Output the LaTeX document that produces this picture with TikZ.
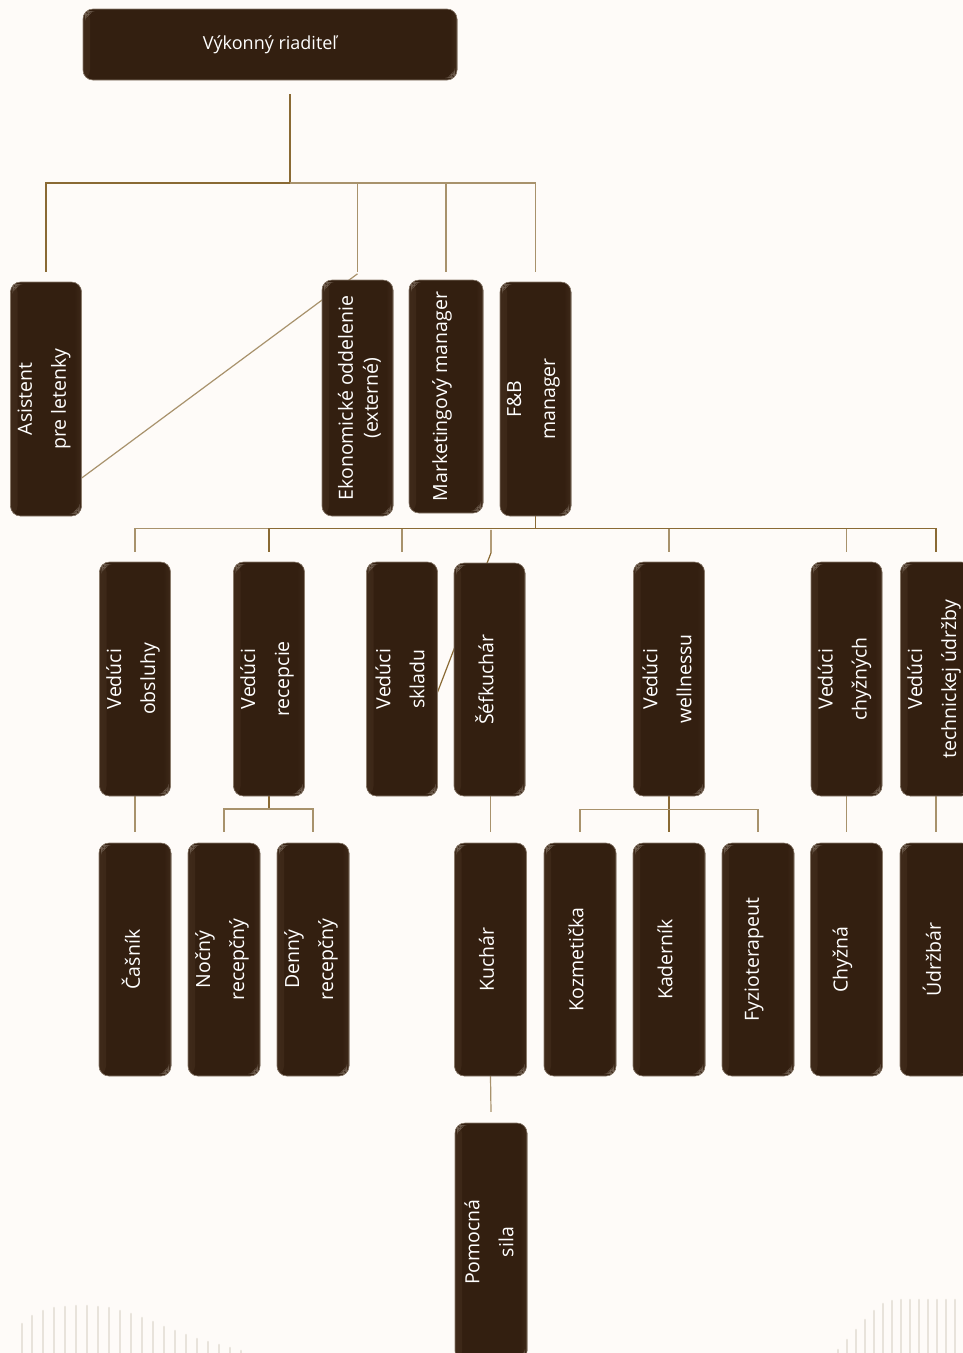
\documentclass[tikz,border=0pt]{standalone}
\usepackage{fontspec}
\setmainfont{Open Sans}
\usetikzlibrary{calc}
\definecolor{bgc}{HTML}{FEFBF8}
\definecolor{boxbrown}{HTML}{331F10}
\definecolor{boxedge}{HTML}{3E2919}
\definecolor{boxframe}{HTML}{8A7B6C}
\definecolor{glint}{HTML}{8E7E70}
\definecolor{conc}{HTML}{8A6A34}
\definecolor{conlc}{HTML}{A8926C}
\definecolor{stripec}{HTML}{E8E3DB}
\tikzset{
  orgbox/.style={rounded corners=10pt, fill=boxbrown, draw=boxframe, line width=0.6pt,
    inner sep=0pt, minimum width=71pt, minimum height=234pt, text=white,
    path picture={
      \fill[left color=boxedge, right color=boxbrown]
        (path picture bounding box.north west) rectangle ([xshift=7pt]path picture bounding box.south west);
      \fill[left color=boxbrown, right color=boxedge]
        ([xshift=-7pt]path picture bounding box.north east) rectangle (path picture bounding box.south east);
      \fill[glint, opacity=0.6] ([shift={(2pt,-2pt)}]path picture bounding box.north west)
        -- ++(8pt,0pt) -- ++(-8pt,-8pt) -- cycle;
      \fill[glint, opacity=0.6] ([shift={(-2pt,2pt)}]path picture bounding box.south east)
        -- ++(-8pt,0pt) -- ++(8pt,8pt) -- cycle;
    }},
  anchorbox/.style={inner sep=0pt, minimum width=71pt, minimum height=234pt},
  vtext/.style={rotate=90, text=white, align=center, font=\fontsize{19.5}{34}\selectfont},
  con/.style={draw=conc, line width=1.5pt},
  conl/.style={draw=conlc, line width=1.4pt},
  stripeln/.style={draw=stripec, line width=2.6pt, line cap=round},
}
\begin{document}
\begin{tikzpicture}[x=1pt,y=-1pt]
\useasboundingbox (0,0) rectangle (963,1353);
\fill[bgc] (0,0) rectangle (963,1353);
\clip (0,0) rectangle (963,1353);

% decorative stripes
\foreach \sx/\st in {22/1324, 32/1316, 43/1311, 54/1308, 65/1307, 76/1306, 87/1306, 98/1307, 109/1308, 120/1311, 131/1314, 142/1318, 153/1322, 164/1327, 175/1331, 186/1335, 197/1339, 208/1342, 219/1345, 230/1348, 241/1351}
  \draw[stripeln] (\sx,1356) -- (\sx,\st);
\foreach \sx/\st in {838/1350, 847/1340, 856/1330, 865/1320, 874/1311, 883/1304, 892/1301, 901/1300, 910/1300, 919/1300, 928/1300, 937/1300, 946/1300, 955/1300}
  \draw[stripeln] (\sx,1356) -- (\sx,\st);

% anchor boxes (positions only)
\path (270,44.5) node[anchorbox, minimum width=374pt, minimum height=71pt] (ceo) {};
\path (46,399) node[anchorbox] (asist) {}
      (357.5,398) node[anchorbox, minimum height=236pt] (ekon) {}
      (446,396.5) node[anchorbox, minimum width=74pt, minimum height=233pt] (mark) {}
      (535.5,399) node[anchorbox] (fb) {};
\path (135,679) node[anchorbox, minimum width=70pt] (obs) {}
      (269,679) node[anchorbox, minimum width=72pt] (rec) {}
      (402,679) node[anchorbox, minimum width=70pt] (skl) {}
      (489.5,679.5) node[anchorbox, minimum height=233pt] (sef) {}
      (669,679) node[anchorbox, minimum width=72pt] (well) {}
      (846.5,679) node[anchorbox, minimum width=73pt] (chyz) {}
      (936,679) node[anchorbox, minimum width=72pt] (tech) {};
\path (135,959.5) node[anchorbox, minimum width=72pt, minimum height=233pt] (cas) {}
      (224,959.5) node[anchorbox, minimum width=72pt, minimum height=233pt] (noc) {}
      (313,959.5) node[anchorbox, minimum width=72pt, minimum height=233pt] (den) {}
      (490.5,959.5) node[anchorbox, minimum height=233pt] (kuch) {}
      (580,959.5) node[anchorbox, minimum width=72pt, minimum height=233pt] (koz) {}
      (669,959.5) node[anchorbox, minimum width=72pt, minimum height=233pt] (kad) {}
      (758,959.5) node[anchorbox, minimum width=72pt, minimum height=233pt] (fyz) {}
      (846.5,959.5) node[anchorbox, minimum width=73pt, minimum height=233pt] (chy) {}
      (936,959.5) node[anchorbox, minimum width=72pt, minimum height=233pt] (udr) {};
\path (491,1242) node[anchorbox, minimum width=72pt, minimum height=238pt] (pom) {};

% top level connectors
\coordinate (j0) at (290,183);
\draw[con] ($(ceo.south -| j0)+(0,14)$) -- (j0);
\draw[con] ($(asist.north)+(0,-10)$) |- (j0);
\draw[conl] (j0) -| ($(fb.north)+(0,-10)$);
\draw[conl] ($(ekon.north)+(0,-8)$) -- (ekon.north |- j0);
\draw[conl] ($(mark.north)+(0,-8)$) -- (mark.north |- j0);
\draw[conl, line width=1.2pt] ($(ekon.north)+(0,-6)$) -- ($(asist.east)+(0,79)$);

% F&B connectors
\coordinate (j1) at (535.5,528.5);
\draw[con] (fb.south) -- (j1);
\draw[conl, line width=1.2pt] ($(obs.north)+(0,-10)$) |- (rec.north |- j1);
\draw[con] ($(rec.north)+(0,-10)$) |- (j1) -| ($(tech.north)+(0,-10)$);
\draw[conl] ($(skl.north)+(0,-10)$) -- (skl.north |- j1);
\draw[con, line width=1.2pt] ($(skl.east)+(0,14)$) -- ($(sef.north)+(1.5,-10)$) -- ($(sef.north)+(1.5,-33)$);
\draw[conl] ($(well.north)+(0,-10)$) -- (well.north |- j1);
\draw[conl] ($(chyz.north)+(0,-10)$) -- (chyz.north |- j1);

% lower connectors
\coordinate (j2) at (269,809);
\coordinate (j3) at (669,809.5);
\draw[conl, line width=1.2pt] (obs.south) -- ($(cas.north)+(0,-11)$);
\draw[con] (rec.south) -- (j2);
\draw[conl, line width=1.2pt] ($(noc.north)+(0,-11)$) |- (j2) -| ($(den.north)+(0,-11)$);
\draw[conl, line width=1.2pt] ($(kuch.north)+(0,-11)$) -- (kuch.north |- sef.south);
\draw[con] (well.south) -- ($(kad.north)+(0,-11)$);
\draw[conl, line width=1.2pt] ($(koz.north)+(0,-11)$) |- (j3) -| ($(fyz.north)+(0,-11)$);
\draw[conl, line width=1.2pt] (chyz.south) -- ($(chy.north)+(0,-11)$);
\draw[conl, line width=1.2pt] (tech.south) -- ($(udr.north)+(0,-11)$);
\draw[conl, line width=1.2pt] (kuch.south) -- ($(pom.north)+(0,-11)$);

% ---------- visible boxes ----------
\node[orgbox, minimum width=374pt, minimum height=71pt, font=\fontsize{18}{22}\selectfont] (ceob) at (ceo) {Výkonný riaditeľ};

\node[orgbox] (asistb) at (asist) {};
\node[orgbox, minimum height=236pt] (ekonb) at (ekon) {};
\node[orgbox, minimum width=74pt, minimum height=233pt] (markb) at (mark) {};
\node[orgbox] (fbb) at (fb) {};
\node[vtext] (asist-t) at ($(asist)+(-2,0)$) {Asistent\\pre letenky};
\node[vtext, font=\fontsize{19.5}{25}\selectfont] (ekon-t) at ($(ekon)+(2,0)$) {Ekonomické oddelenie\\(externé)};
\node[vtext] (mark-t) at ($(mark)+(-4,0)$) {Marketingový manager};
\node[vtext] (fb-t) at ($(fb)+(-2,0)$) {F\&B\\manager};

\foreach \n in {obs,rec,skl,well,chyz,tech}
  \node[orgbox] (\n b) at (\n) {};
\node[orgbox, minimum height=233pt] (sefb) at (sef) {};
\node[vtext] (obs-t) at ($(obs)+(-2,0)$) {Vedúci\\obsluhy};
\node[vtext] (rec-t) at ($(rec)+(-2,0)$) {Vedúci\\recepcie};
\node[vtext] (skl-t) at ($(skl)+(-2,0)$) {Vedúci\\skladu};
\node[vtext] (sef-t) at ($(sef)+(-5,0)$) {Šéfkuchár};
\node[vtext] (well-t) at ($(well)+(-2,0)$) {Vedúci\\wellnessu};
\node[vtext] (chyz-t) at ($(chyz)+(-2,0)$) {Vedúci\\chyžných};
\node[vtext] (tech-t) at ($(tech)+(-2,0)$) {Vedúci\\technickej údržby};

\foreach \n in {cas,noc,den,kuch,koz,kad,fyz,chy,udr}
  \node[orgbox, minimum width=72pt, minimum height=233pt] (\n b) at (\n) {};
\node[orgbox, minimum width=72pt, minimum height=238pt] (pomb) at (pom) {};
\node[vtext] (cas-t) at ($(cas)+(-4,0)$) {Čašník};
\node[vtext] (noc-t) at ($(noc)+(-2,0)$) {Nočný\\recepčný};
\node[vtext] (den-t) at ($(den)+(-2,0)$) {Denný\\recepčný};
\node[vtext] (kuch-t) at ($(kuch)+(-4,0)$) {Kuchár};
\node[vtext] (koz-t) at ($(koz)+(-4,0)$) {Kozmetička};
\node[vtext] (kad-t) at ($(kad)+(-4,0)$) {Kaderník};
\node[vtext] (fyz-t) at ($(fyz)+(-4,0)$) {Fyzioterapeut};
\node[vtext] (chy-t) at ($(chy)+(-4,0)$) {Chyžná};
\node[vtext] (udr-t) at ($(udr)+(-4,0)$) {Údržbár};
\node[vtext] (pom-t) at ($(pom)+(-2,0)$) {Pomocná\\sila};
\end{tikzpicture}
\end{document}
